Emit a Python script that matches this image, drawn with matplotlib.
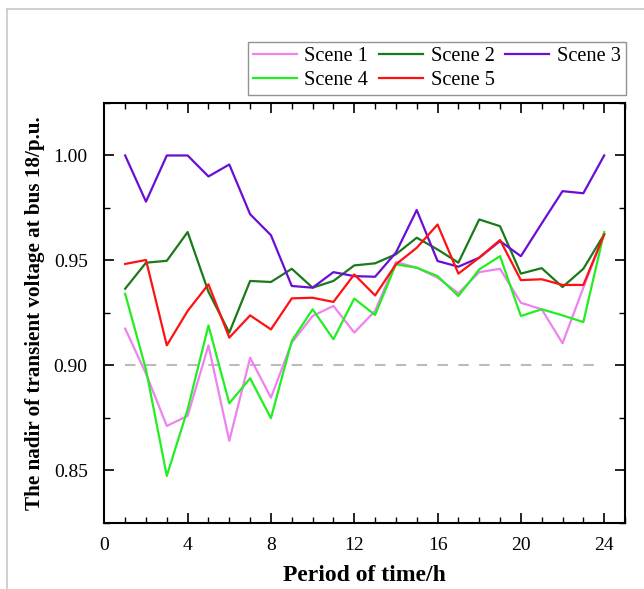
import numpy as np
import matplotlib.pyplot as plt
from matplotlib.lines import Line2D
from matplotlib.ticker import MultipleLocator

plt.rcParams['font.family'] = ['Liberation Serif', 'DejaVu Serif']

# Horas do dia
horas = np.arange(1, 25)

# Tensao minima transitoria na barra 18 (p.u.) para cada cenario
cena1 = [0.9175, 0.896, 0.8711, 0.8759, 0.9095, 0.864, 0.9036, 0.8846, 0.9108, 0.9235,
         0.9283, 0.9156, 0.9259, 0.9492, 0.9465, 0.9418, 0.9343, 0.9444, 0.946, 0.9298,
         0.9267, 0.9105, 0.937, 0.9624]
cena2 = [0.9365, 0.9489, 0.9498, 0.9635, 0.935, 0.9156, 0.9402, 0.9397, 0.946, 0.937,
         0.9402, 0.9476, 0.9486, 0.9529, 0.9608, 0.9552, 0.9489, 0.9695, 0.9663, 0.9437,
         0.9463, 0.9373, 0.946, 0.9624]
cena3 = [1.000, 0.978, 1.000, 1.000, 0.990, 0.9957, 0.972, 0.962, 0.9378, 0.937,
         0.9444, 0.9425, 0.9422, 0.9537, 0.974, 0.9497, 0.947, 0.9513, 0.9592, 0.952,
         0.9676, 0.983, 0.982, 1.000]
cena4 = [0.9341, 0.898, 0.8473, 0.879, 0.919, 0.8819, 0.8938, 0.8748, 0.9116, 0.9267,
         0.9124, 0.9318, 0.924, 0.9481, 0.9465, 0.9425, 0.933, 0.9457, 0.952, 0.9235,
         0.9267, 0.9238, 0.9206, 0.9635]
cena5 = [0.9483, 0.9502, 0.9095, 0.9259, 0.9386, 0.9132, 0.9238, 0.9171, 0.9319, 0.9322,
         0.9302, 0.9433, 0.9333, 0.9481, 0.956, 0.9671, 0.9437, 0.9513, 0.9597, 0.9406,
         0.941, 0.9383, 0.9383, 0.9624]

nomes = ["Scene 1", "Scene 2", "Scene 3", "Scene 4", "Scene 5"]
cores = ["#EE82EE", "#1A7A1A", "#6A0DD6", "#22EE22", "#FF1111"]
limite = 0.90  # tensao minima admissivel

fig = plt.figure(figsize=(6.44, 5.89), dpi=100)
ax = fig.add_axes([0.162, 0.1126, 0.8085, 0.7125])

# moldura cinza da figura
fig.add_artist(Line2D([7/644, 7/644], [0, 1 - 9/589], transform=fig.transFigure,
                      color="#C8C8C8", lw=1.2))
fig.add_artist(Line2D([7/644, 1], [1 - 9/589, 1 - 9/589], transform=fig.transFigure,
                      color="#C8C8C8", lw=1.2))

ax.hlines(limite, 1, 24, colors="#BBBBBB", linestyles=(0, (5, 5)), lw=1.5)

linhas = []
for serie, nome, cor in zip([cena1, cena2, cena3, cena4, cena5], nomes, cores):
    l, = ax.plot(horas, serie, color=cor, lw=1.6, label=nome)
    linhas.append(l)

ax.set_xlim(0, 25)
ax.set_ylim(0.825, 1.025)
ax.xaxis.set_major_locator(MultipleLocator(4))
ax.xaxis.set_minor_locator(MultipleLocator(1))
ax.yaxis.set_major_locator(MultipleLocator(0.05))
ax.yaxis.set_minor_locator(MultipleLocator(0.025))
ax.yaxis.set_major_formatter(plt.FormatStrFormatter("%.2f"))

ax.tick_params(which="both", direction="in", top=True, right=True, labelsize=14)
ax.tick_params(which="major", length=7, width=1.2)
ax.tick_params(which="minor", length=4, width=1.0)
ax.tick_params(axis="x", pad=10)
ax.tick_params(axis="y", pad=12)
for s in ax.spines.values():
    s.set_linewidth(1.5)

ax.set_xlabel("Period of time/h", fontsize=17, fontweight="bold", labelpad=8)
ax.set_ylabel("The nadir of transient voltage at bus 18/p.u.", fontsize=15.2,
              fontweight="bold", labelpad=6)

# legenda preenchida por linha: 1 2 3 / 4 5
ordem = [0, 3, 1, 4, 2]
leg = ax.legend([linhas[i] for i in ordem], [nomes[i] for i in ordem],
                ncol=3, loc="upper right", bbox_to_anchor=(626/644, 1 - 42/589),
                bbox_transform=fig.transFigure, fontsize=14.7, frameon=True,
                fancybox=False, edgecolor="#777777", handlelength=2.15,
                handletextpad=0.38, columnspacing=0.52, labelspacing=0.22,
                borderpad=0.25, borderaxespad=0.0)
leg.get_frame().set_linewidth(1.0)

fig.savefig("out.png", dpi=100)
